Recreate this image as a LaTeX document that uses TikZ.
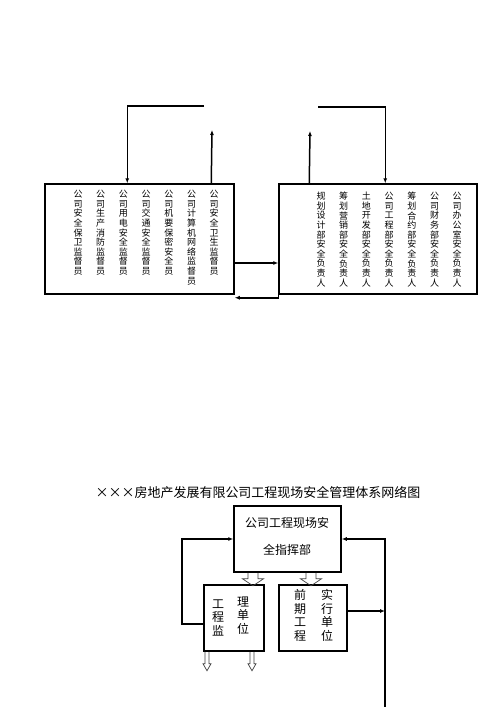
\documentclass[tikz,border=0pt]{standalone}
\usepackage{fontspec}
\setmainfont{Noto Sans CJK SC}
\usetikzlibrary{arrows.meta}

% stack the characters of a word one under the other
\newcommand\colchars[1]{\vbox{\expandafter\colcharsnext#1\relax}}
\def\colcharsnext#1{\ifx\relax#1\else\hbox{#1}\expandafter\colcharsnext\fi}

\begin{document}
\begin{tikzpicture}
[x=1pt, y=-1pt, line width=1.5pt, >={Latex[length=5pt,width=4pt]},
 box/.style={draw, inner sep=0pt},
 vcol/.style={inner sep=0pt, anchor=north, font=\fontsize{9}{9.6}\selectfont},
 vlbl/.style={inner sep=0pt, anchor=north, font=\fontsize{12}{13.5}\selectfont},
 bigdown/.pic={\draw[line width=.7pt, black!75] (-5,0) -- (-5,6) -- (-10.5,6) -- (0,13) -- (10.5,6) -- (5,6) -- (5,0);},
 smalldown/.pic={\draw[line width=.7pt, black!75] (-2,0) -- (-2,12) -- (-4,12) -- (0,19) -- (4,12) -- (2,12) -- (2,0);}]
\useasboundingbox (0,0) rectangle (500,707);

% upper network
\node[box, minimum width=189, minimum height=110] (L) at (139.5,239) {};
\node[box, minimum width=198, minimum height=110] (R) at (378,239) {};
\foreach \t [count=\i from 0] in {公司安全保卫监督员, 公司生产消防监督员, 公司用电安全监督员,
  公司交通安全监督员, 公司机要保密安全员, 公司计算机网络监督员, 公司安全卫生监督员}
  \node[vcol] (l\i) at ({78+22.7*\i},189.5) {\colchars{\t}};
\foreach \t [count=\i from 0] in {规划设计部安全负责人, 筹划营销部安全负责人, 土地开发部安全负责人,
  公司工程部安全负责人, 筹划合约部安全负责人, 公司财务部安全负责人, 公司办公室安全负责人}
  \node[vcol] (r\i) at ({321+22.7*\i},191.5) {\colchars{\t}};

\coordinate (ltop) at (204,106);
\coordinate (lup) at (212,130);
\coordinate (rtop) at (318,107);
\coordinate (rup) at (310,131);
\draw[->] (ltop) -| ([xshift=83]L.north west);
\draw[->] ([xshift=167]L.north west) -- (lup);
\draw[->] (rtop) -| ([xshift=107]R.north west);
\draw[->] ([xshift=31]R.north west) -- (rup);
\draw[->] ([yshift=-24]L.east) -- ([yshift=-24]R.west);
\draw[->] (R.south west) -- ++(0,3) -- ([yshift=-3]L.south east);

% lower network
\node[font=\fontsize{13}{13}\selectfont] (title) at (258,493) {×××房地产发展有限公司工程现场安全管理体系网络图};
\node[box, minimum width=107, minimum height=66] (C) at (287.5,539) {};
\node[align=center, font=\fontsize{12}{27}\selectfont] (ct) at (287,536.5) {公司工程现场安\\全指挥部};
\node[box, minimum width=60, minimum height=66] (S) at (234,618) {};
\node[box, minimum width=68, minimum height=66] (Q) at (313,618) {};
\node[vlbl] (s1) at (218,599) {\colchars{工程监}};
\node[vlbl] (s2) at (243,596) {\colchars{理单位}};
\node[vlbl] (q1) at (300,589) {\colchars{前期工程}};
\node[vlbl] (q2) at (327,589) {\colchars{实行单位}};

\pic at ([xshift=-34.5]C.south) {bigdown};
\pic at ([xshift=23.5]C.south) {bigdown};
\pic at ([xshift=-27]S.south) {smalldown};
\pic at ([xshift=18]S.south) {smalldown};

\coordinate (lc) at (182,539);
\coordinate (rb) at (385,707);
\coordinate (qe) at ([yshift=7]Q.east);
\draw[->] ([yshift=-6]S.west) -| (lc) -- (C.west);
\draw[->] (rb) |- (C.east);
\draw[->] (qe) -- (qe -| rb);
\end{tikzpicture}
\end{document}
